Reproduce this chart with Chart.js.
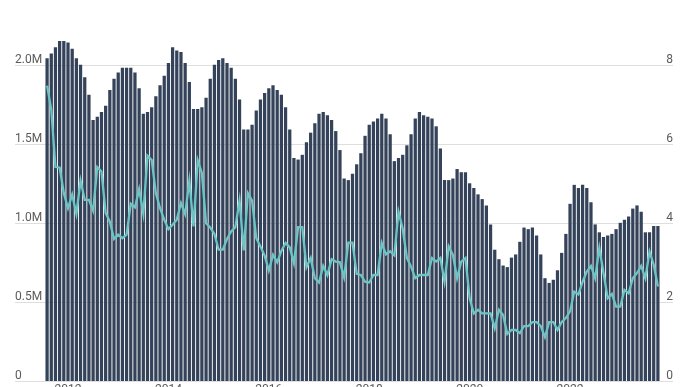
<!DOCTYPE html>
<html>
<head>
<meta charset="utf-8">
<script src="https://cdn.jsdelivr.net/npm/chart.js@4.4.1/dist/chart.umd.min.js"></script>
<style>
  html, body { margin: 0; padding: 0; background: #fff; }
  #wrap { width: 688px; height: 387px; }
</style>
</head>
<body>
<div id="wrap"><canvas id="chart1"></canvas></div>
<script>
// monthly totals in millions (bars, left axis)
const barValues = [
  2.04,2.07,2.11,2.15,2.15,2.14,2.10,2.04,2.00,1.92,1.81,1.65,
  1.67,1.70,1.74,1.84,1.91,1.95,1.98,1.98,1.98,1.95,1.85,1.69,
  1.70,1.73,1.80,1.87,1.93,2.01,2.11,2.09,2.08,2.01,1.89,1.72,
  1.72,1.73,1.79,1.91,2.00,2.03,2.04,2.01,1.98,1.91,1.78,1.59,
  1.59,1.62,1.71,1.78,1.82,1.85,1.87,1.84,1.81,1.73,1.59,1.41,
  1.40,1.43,1.51,1.57,1.63,1.69,1.70,1.68,1.65,1.58,1.46,1.28,
  1.27,1.31,1.37,1.44,1.55,1.62,1.64,1.66,1.69,1.66,1.56,1.39,
  1.41,1.43,1.49,1.56,1.66,1.70,1.68,1.67,1.66,1.61,1.47,1.27,
  1.27,1.28,1.34,1.32,1.32,1.25,1.22,1.18,1.15,1.11,0.99,0.83,
  0.77,0.73,0.72,0.78,0.80,0.88,0.97,0.96,0.97,0.92,0.80,0.65,
  0.62,0.64,0.70,0.81,0.93,1.12,1.24,1.22,1.24,1.22,1.13,0.99,
  0.94,0.91,0.92,0.93,0.96,1.00,1.02,1.04,1.09,1.11,1.07,0.94,
  0.94,0.98,0.98
];

// rate (line, right axis)
const lineValues = [
  7.47,6.86,5.41,5.40,4.75,4.37,4.71,4.23,5.07,4.58,4.58,4.31,
  5.41,5.30,4.25,4.03,3.59,3.70,3.61,3.70,4.48,4.39,4.85,4.23,
  5.70,5.59,4.75,4.37,4.08,3.84,3.95,4.08,4.50,4.22,5.06,3.91,
  5.58,5.26,3.99,3.88,3.72,3.32,3.32,3.59,3.78,3.89,4.56,3.30,
  4.75,4.56,3.61,3.40,3.17,2.79,3.19,3.00,3.29,3.49,3.38,2.98,
  3.89,3.89,2.88,3.11,2.60,2.49,2.91,2.68,3.08,3.02,3.00,2.62,
  3.50,3.50,2.71,2.68,2.51,2.49,2.68,2.68,3.49,3.20,3.28,3.18,
  4.28,3.85,3.11,2.89,2.60,2.68,2.68,2.68,3.11,3.02,3.11,2.51,
  3.40,3.19,2.60,3.02,3.11,2.09,1.71,1.80,1.71,1.71,1.71,1.33,
  1.80,1.67,1.19,1.29,1.29,1.21,1.39,1.39,1.49,1.49,1.39,1.11,
  1.49,1.49,1.29,1.49,1.59,1.76,2.26,2.19,2.51,2.77,2.91,2.60,
  3.36,2.73,2.09,2.20,1.88,1.88,2.30,2.22,2.60,2.73,2.91,2.60,
  3.27,2.94,2.39
];

const leftTicks = [0, 0.5, 1.0, 1.5, 2.0];
const leftTickLabels = ['0', '0.5M', '1.0M', '1.5M', '2.0M'];
const rightTicks = [0, 2, 4, 6, 8];
const rightTickLabels = ['0', '2', '4', '6', '8'];
const yearLabels = ['2012', '2014', '2016', '2018', '2020', '2022'];

// month categories, starting Aug 2011
const months = [];
for (let i = 0; i < barValues.length; i++) {
  const m = (7 + i) % 12;
  const y = 2011 + Math.floor((7 + i) / 12);
  months.push(y + '-' + String(m + 1).padStart(2, '0'));
}

const textColor = '#5a5a5a';
const font = '12px Roboto, "Open Sans", sans-serif';

// grid lines and labels above them, like the original
const gridPlugin = {
  id: 'grid',
  beforeDatasetsDraw(chart) {
    const c = chart.ctx;
    const yl = chart.scales.y;
    c.save();
    c.strokeStyle = '#dedede';
    c.lineWidth = 1;
    leftTicks.forEach(v => {
      const py = Math.round(yl.getPixelForValue(v)) + 0.5;
      c.beginPath();
      c.moveTo(15, py);
      c.lineTo(673, py);
      c.stroke();
    });
    c.restore();
  },
  afterDraw(chart) {
    const c = chart.ctx;
    const yl = chart.scales.y;
    const yr = chart.scales.y1;
    const x = chart.scales.x;
    c.save();
    c.font = font;
    c.fillStyle = textColor;
    c.textBaseline = 'alphabetic';
    c.textAlign = 'left';
    leftTicks.forEach((v, i) => {
      c.fillText(leftTickLabels[i], 15, yl.getPixelForValue(v) - 2);
    });
    c.textAlign = 'right';
    rightTicks.forEach((v, i) => {
      c.fillText(rightTickLabels[i], 673, yr.getPixelForValue(v) - 2);
    });
    c.textAlign = 'center';
    c.textBaseline = 'top';
    yearLabels.forEach(yr => {
      const idx = months.indexOf(yr + '-01');
      if (idx >= 0) c.fillText(yr, x.getPixelForValue(idx), 384);
    });
    c.restore();
  }
};

const ctx = document.getElementById('chart1').getContext('2d');
const chart = new Chart(ctx, {
  data: {
    labels: months,
    datasets: [
      {
        type: 'line',
        data: lineValues,
        yAxisID: 'y1',
        borderColor: '#6cc4c4',
        borderWidth: 2.3,
        pointRadius: 0,
        tension: 0,
        order: 0
      },
      {
        type: 'bar',
        data: barValues,
        yAxisID: 'y',
        backgroundColor: '#34435a',
        barPercentage: 0.78,
        categoryPercentage: 1.0,
        order: 1
      }
    ]
  },
  options: {
    responsive: true,
    maintainAspectRatio: false,
    animation: false,
    layout: { padding: { left: 45, right: 28, top: 33, bottom: 6 } },
    plugins: { legend: { display: false }, tooltip: { enabled: false } },
    scales: {
      x: { display: false, offset: true },
      y: { display: false, min: 0, max: 2.2 },
      y1: { display: false, min: 0, max: 8.8, position: 'right' }
    }
  },
  plugins: [gridPlugin]
});
</script>
</body>
</html>
